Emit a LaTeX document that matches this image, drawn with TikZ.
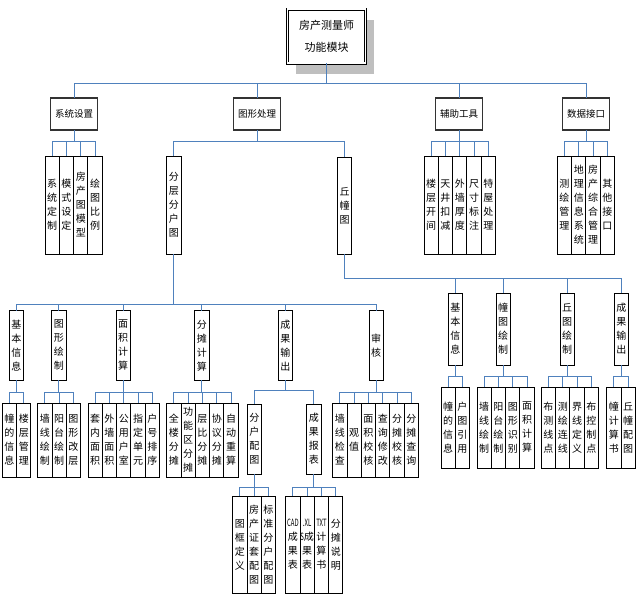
\documentclass[tikz,border=0pt]{standalone}
\usepackage{fontspec}
\setmainfont{Noto Sans CJK SC}
\usetikzlibrary{shadows}
\definecolor{linkblue}{RGB}{79,129,189}

% a row of boxes side by side under one parent
\newcommand{\branch}[7]{%
  \foreach \t [count=\i] in {#7} {
    \node[box, minimum height=#5-#4] (#2-\i) at ({#3+14.3*(\i-1)},#4) {\t};
    \draw[link] (#1.south) -- (#1.south |- 0,#6) -| (#2-\i.north);
  }}

\begin{document}
\begin{tikzpicture}[x=1pt, y=-1pt,
    box/.style={draw, fill=white, line width=0.9pt, inner sep=0pt, outer sep=0pt,
      anchor=north west, text width=14.3pt, align=center,
      font=\fontsize{10}{14}\selectfont},
    head/.style={draw=black!80, fill=white, line width=1.8pt, inner sep=0pt, outer sep=0pt,
      minimum width=47pt, minimum height=32pt, font=\fontsize{9.5}{12}\selectfont},
    link/.style={draw=linkblue, line width=0.8pt}]
    \useasboundingbox (0,0) rectangle (639,603);

    % Top
    \node[draw, line width=0.7pt, double, double distance=1.6pt, fill=white,
      minimum width=78pt, minimum height=54pt, inner sep=0pt, outer sep=0pt,
      align=center, font=\fontsize{11}{21.7}\selectfont,
      drop shadow={shadow xshift=8.5pt, shadow yshift=-11pt, fill=black!25, opacity=1}]
      (root) at (326.5,36) {房产测量师\\功能模块};

    % Main modules
    \node[head] (xtsz) at (74,114) {系统设置};
    \node[head] (txcl) at (257,114) {图形处理};
    \node[head] (fzgj) at (459,114) {辅助工具};
    \node[head] (sjjk) at (586,114) {数据接口};
    \foreach \n in {xtsz,txcl,fzgj,sjjk}
      \draw[link] (root.south) -- (root.south |- 0,83) -| (\n.north);

    % Second level
    \branch{xtsz}{xt}{45}{156}{254}{141.7}{系\\统\\定\\制, 模\\式\\设\\定, 房\\产\\图\\模\\型, 绘\\图\\比\\例}
    \branch{fzgj}{fz}{424}{156}{254}{141.7}{楼\\层\\开\\间, 天\\井\\扣\\减, 外\\墙\\厚\\度, 尺\\寸\\标\\注, 特\\屋\\处\\理}
    \branch{sjjk}{sj}{557.3}{156}{254}{141.7}{测\\绘\\管\\理, 地\\理\\信\\息\\系\\统, 房\\产\\综\\合\\管\\理, 其\\他\\接\\口}

    \node[box, minimum height=98] (fcfht) at (166.7,156) {分\\层\\分\\户\\图};
    \node[box, minimum height=97] (qzt) at (337.5,157) {丘\\幢\\图};
    \foreach \n in {fcfht,qzt}
      \draw[link] (txcl.south) -- (txcl.south |- 0,141.7) -| (\n.north);

    % Layered household plan
    \foreach \n/\x/\t in {jbxx/9.3/基\\本\\信\\息, txhz/51.7/图\\形\\绘\\制, mjjs/116/面\\积\\计\\算,
        ftjs/194.7/分\\摊\\计\\算, cgsc/278.3/成\\果\\输\\出, sh/369/审\\核} {
      \node[box, minimum height=69.3] (\n) at (\x,310.7) {\t};
      \draw[link] (fcfht.south) -- (fcfht.south |- 0,304) -| (\n.north);
    }
    \branch{jbxx}{jb}{2.3}{403}{477}{392.5}{幢\\的\\信\\息, 楼\\层\\管\\理}
    \branch{txhz}{tx}{37.7}{403}{477}{392.5}{墙\\线\\绘\\制, 阳\\台\\绘\\制, 图\\形\\改\\层}
    \branch{mjjs}{mj}{88}{403}{477}{392.5}{套\\内\\面\\积, 外\\墙\\面\\积, 公\\用\\户\\室, 指\\定\\单\\元, 户\\号\\排\\序}
    \branch{ftjs}{ft}{166.7}{403}{477}{392.5}{全\\楼\\分\\摊, 功\\能\\区\\分\\摊, 层\\比\\分\\摊, 协\\议\\分\\摊, 自\\动\\重\\算}
    \branch{sh}{sh}{332.7}{403}{477}{392.5}{墙\\线\\检\\查, 观\\值, 面\\积\\校\\核, 查\\询\\修\\改, 分\\摊\\校\\核, 分\\摊\\查\\询}

    \node[box, minimum height=70] (fhpt) at (247.3,404) {分\\户\\配\\图};
    \node[box, minimum height=70] (cgbb) at (306.7,404) {成\\果\\报\\表};
    \foreach \n in {fhpt,cgbb}
      \draw[link] (cgsc.south) -- (cgsc.south |- 0,390) -| (\n.north);
    \branch{fhpt}{fh}{232.7}{496}{593}{487.3}{图\\框\\定\\义, 房\\产\\证\\套\\配\\图, 标\\准\\分\\户\\配\\图}
    \branch{cgbb}{cb}{285.7}{496}{593}{487.3}{\scalebox{0.6}[1]{CAD}\\成\\果\\表,
      \scalebox{0.6}[1]{.XL}\\\scalebox{0.6}[1]{S}成\\果\\表, \scalebox{0.6}[1]{TXT}\\计\\算\\书, 分\\摊\\说\\明}

    % Parcel plan
    \foreach \n/\x/\t in {qjb/448.3/基\\本\\信\\息, qtz/496/幢\\图\\绘\\制,
        qqt/560/丘\\图\\绘\\制, qcg/614.3/成\\果\\输\\出} {
      \node[box, minimum height=72] (\n) at (\x,293) {\t};
      \draw[link] (qzt.south) -- (qzt.south |- 0,278) -| (\n.north);
    }
    \branch{qjb}{qj}{441}{387}{468}{376}{幢\\的\\信\\息, 户\\图\\引\\用}
    \branch{qtz}{qz}{477}{387}{468}{376}{墙\\线\\绘\\制, 阳\\台\\绘\\制, 图\\形\\识\\别, 面\\积\\计\\算}
    \branch{qqt}{qq}{541.3}{387}{468}{376}{布\\测\\线\\点, 测\\绘\\连\\线, 界\\线\\定\\义, 布\\控\\制\\点}
    \branch{qcg}{qc}{606.7}{387}{468}{376}{幢\\计\\算\\书, 丘\\幢\\配\\图}
\end{tikzpicture}
\end{document}
